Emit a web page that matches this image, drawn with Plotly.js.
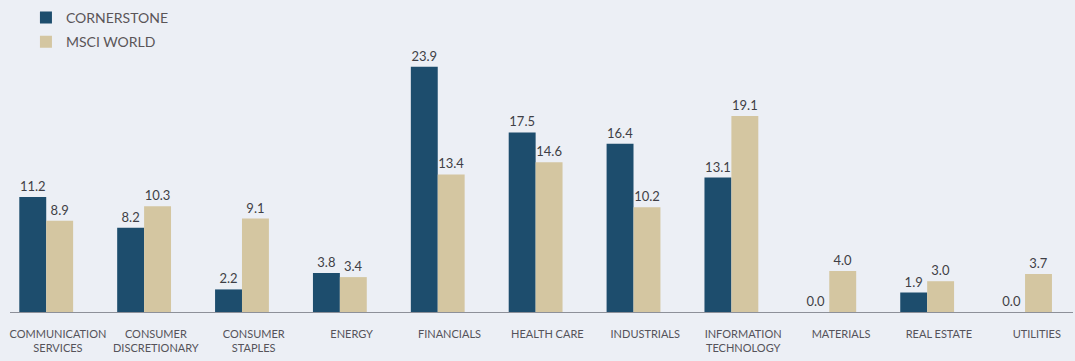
<!DOCTYPE html>
<html>
<head>
<meta charset="utf-8">
<script src="https://cdn.plot.ly/plotly-3.0.1.min.js"></script>
<style>
html,body{margin:0;padding:0;background:#eceff5;}
#chart{width:1075px;height:361px;}
</style>
</head>
<body>
<div id="chart"></div>
<script>
const categories = [
  "COMMUNICATION<br>SERVICES",
  "CONSUMER<br>DISCRETIONARY",
  "CONSUMER<br>STAPLES",
  "ENERGY",
  "FINANCIALS",
  "HEALTH CARE",
  "INDUSTRIALS",
  "INFORMATION<br>TECHNOLOGY",
  "MATERIALS",
  "REAL ESTATE",
  "UTILITIES"
];
const cornerstone = [11.2, 8.2, 2.2, 3.8, 23.9, 17.5, 16.4, 13.1, 0.0, 1.9, 0.0];
const msciWorld = [8.9, 10.3, 9.1, 3.4, 13.4, 14.6, 10.2, 19.1, 4.0, 3.0, 3.7];

const fontFam = "Lato, 'Open Sans', sans-serif";
const traces = [
  {
    type: 'bar', name: 'CORNERSTONE', x: categories, y: cornerstone,
    marker: {color: '#1d4d6d'}, legendgroup: 'a',
    text: cornerstone.map(v => v.toFixed(1)), textposition: 'outside',
    constraintext: 'none',
    textfont: {size: 13, color: '#3f3f46', family: fontFam},
    cliponaxis: false, hoverinfo: 'skip'
  },
  {
    type: 'bar', name: 'MSCI WORLD', x: categories, y: msciWorld,
    marker: {color: '#d4c6a1'}, legendgroup: 'b',
    text: msciWorld.map(v => v.toFixed(1)), textposition: 'outside',
    constraintext: 'none',
    textfont: {size: 13, color: '#3f3f46', family: fontFam},
    cliponaxis: false, hoverinfo: 'skip'
  },
  {
    type: 'scatter', mode: 'none', x: categories, y: categories.map(() => null),
    xaxis: 'x2', yaxis: 'y', showlegend: false, hoverinfo: 'skip'
  }
];
const layout = {
  width: 1075, height: 361,
  paper_bgcolor: '#eceff5', plot_bgcolor: '#eceff5',
  margin: {l: 10, r: 2, t: 0, b: 49},
  barmode: 'group', bargap: 0.45, bargroupgap: 0,
  font: {family: fontFam, color: '#4a4a50'},
  showlegend: true,
  legend: {
    x: 0.015, y: 0.994, xanchor: 'left', yanchor: 'top',
    orientation: 'v', traceorder: 'grouped', tracegroupgap: 3,
    font: {size: 14, color: '#5a5558', family: fontFam},
    bgcolor: 'rgba(0,0,0,0)'
  },
  xaxis: {
    type: 'category', range: [-0.37, 10.49],
    showline: true, linecolor: '#8d9099', linewidth: 1,
    showgrid: false, zeroline: false, ticks: '', showticklabels: false,
    fixedrange: true
  },
  xaxis2: {
    type: 'category', overlaying: 'x', anchor: 'y', side: 'bottom',
    categoryorder: 'array', categoryarray: categories,
    range: [-0.49, 10.37],
    showline: false, showgrid: false, zeroline: false, ticks: '', tickangle: 0,
    tickfont: {size: 11, color: '#55535a', family: fontFam},
    ticklabelstandoff: 14, fixedrange: true
  },
  yaxis: {
    range: [0, 30.4], showgrid: false, zeroline: false, showline: false,
    showticklabels: false, ticks: '', fixedrange: true
  }
};
Plotly.newPlot('chart', traces, layout, {displayModeBar: false, staticPlot: true});
</script>
</body>
</html>
